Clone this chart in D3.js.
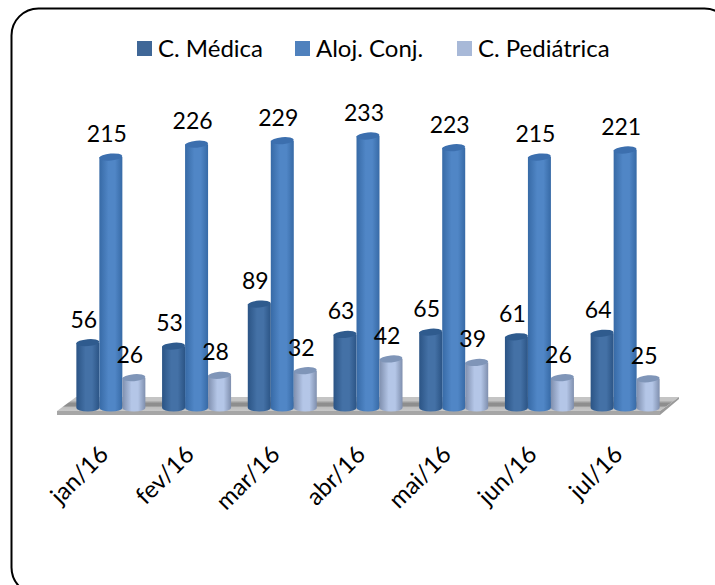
<!DOCTYPE html>
<html>
<head>
<meta charset="utf-8">
<script src="https://cdn.jsdelivr.net/npm/d3@7"></script>
<style>
  html, body { margin: 0; padding: 0; background: #fff; overflow: hidden; }
  text { font-family: Lato, "Open Sans", sans-serif; fill: #000; }
</style>
</head>
<body>
<div id="chart"></div>
<script>
// Chart data
const months = ["jan/16", "fev/16", "mar/16", "abr/16", "mai/16", "jun/16", "jul/16"];
const seriesNames = ["C. Médica", "Aloj. Conj.", "C. Pediátrica"];
const medica = [56, 53, 89, 63, 65, 61, 64];
const alojamento = [215, 226, 229, 233, 223, 215, 221];
const pediatrica = [26, 28, 32, 42, 39, 26, 25];
const seriesValues = [medica, alojamento, pediatrica];

// Colours per series: edge, middle, top cap, legend swatch
const edgeColors = ["#2b5485", "#376aa6", "#7f8fae"];
const midColors = ["#4471a6", "#5086c6", "#b4c6e7"];
const capColors = ["#2f5b8e", "#3c6fae", "#7f95b8"];
const swatchColors = ["#3f6797", "#4f81bd", "#a8b9d8"];

const width = 715;
const height = 585;
const baseY = 408;
const barWidth = 23;

const svg = d3.select("#chart").append("svg")
  .attr("width", width)
  .attr("height", height)
  .style("display", "block");

// Outer rounded frame, runs off the right and bottom of the picture
svg.append("rect")
  .attr("x", 11.5).attr("y", 8.5)
  .attr("width", 720).attr("height", 586)
  .attr("rx", 27).attr("ry", 27)
  .attr("fill", "#fff")
  .attr("stroke", "#000")
  .attr("stroke-width", 2);

// Scales
const x = d3.scaleBand().domain(months).range([68, 668]);
const xInner = d3.scaleBand()
  .domain(seriesNames)
  .range([x.bandwidth() / 2 - barWidth * 1.5, x.bandwidth() / 2 + barWidth * 1.5]);
const y = d3.scaleLinear().domain([0, 233]).range([baseY, baseY - 272]);

// Gradients
const defs = svg.append("defs");
seriesNames.forEach((name, i) => {
  const g = defs.append("linearGradient")
    .attr("id", `bar${i}`)
    .attr("x1", 0).attr("x2", 1).attr("y1", 0).attr("y2", 0);
  g.append("stop").attr("offset", "0%").attr("stop-color", edgeColors[i]);
  g.append("stop").attr("offset", "40%").attr("stop-color", midColors[i]);
  g.append("stop").attr("offset", "68%").attr("stop-color", midColors[i]);
  g.append("stop").attr("offset", "100%").attr("stop-color", edgeColors[i]);
});
const floorGrad = defs.append("linearGradient")
  .attr("id", "floor")
  .attr("x1", 0).attr("x2", 0).attr("y1", 0).attr("y2", 1);
[["0%", "#c4c4c4"], ["25%", "#c4c4c4"], ["45%", "#8e8e8e"], ["65%", "#8e8e8e"], ["72%", "#bdbdbd"], ["100%", "#c8c8c8"]]
  .forEach(s => floorGrad.append("stop").attr("offset", s[0]).attr("stop-color", s[1]));

// Floor of the 3D chart
svg.append("path")
  .attr("d", "M76,397 L679,397 L660,411 L57,411 Z")
  .attr("fill", "url(#floor)");
svg.append("path")
  .attr("d", "M57,411 L660,411 L660,415 L57,415 Z")
  .attr("fill", "#a6a6a6");
svg.append("path")
  .attr("d", "M660,411 L679,397 L679,399 L660,415 Z")
  .attr("fill", "#9a9a9a");

// Cylinders
const rx = barWidth / 2;
const ry = 3.5;
seriesNames.forEach((name, i) => {
  const g = svg.append("g").attr("class", "series");
  const bars = g.selectAll("g")
    .data(months.map((m, j) => ({ month: m, value: seriesValues[i][j] })))
    .enter().append("g")
    .attr("transform", d => `translate(${x(d.month) + xInner(name) + rx},0)`);

  bars.append("path")
    .attr("fill", `url(#bar${i})`)
    .attr("d", d => `M${-rx},${y(d.value)} L${-rx},${baseY} A${rx},${ry} 0 0 0 ${rx},${baseY} L${rx},${y(d.value)} Z`);

  bars.append("ellipse")
    .attr("rx", rx).attr("ry", ry)
    .attr("fill", capColors[i])
    .attr("transform", d => `translate(0,${y(d.value)}) rotate(-5)`);
});

// Data labels
seriesNames.forEach((name, i) => {
  svg.append("g").selectAll("text")
    .data(months.map((m, j) => ({ month: m, value: seriesValues[i][j] })))
    .enter().append("text")
    .attr("x", d => x(d.month) + xInner(name) + rx - 4)
    .attr("y", d => y(d.value) - 15)
    .attr("text-anchor", "middle")
    .style("font-size", "23px")
    .text(d => d.value);
});

// Month axis with slanted labels
const axis = svg.append("g")
  .attr("transform", `translate(0,${baseY})`)
  .call(d3.axisBottom(x).tickSize(0));
axis.select(".domain").remove();
axis.selectAll("text")
  .attr("transform", "translate(-7,42) rotate(-45)")
  .attr("text-anchor", "end")
  .attr("dy", "0.35em")
  .attr("x", 0).attr("y", 0)
  .style("font-family", "Lato, 'Open Sans', sans-serif")
  .style("font-size", "24px");

// Legend
const legendSwatchX = [137, 295, 457];
const legend = svg.append("g");
seriesNames.forEach((name, i) => {
  legend.append("rect")
    .attr("x", legendSwatchX[i]).attr("y", 41)
    .attr("width", 15).attr("height", 15)
    .attr("fill", swatchColors[i]);
  legend.append("text")
    .attr("x", legendSwatchX[i] + 21).attr("y", 57)
    .style("font-size", "24px")
    .text(name);
});
</script>
</body>
</html>
